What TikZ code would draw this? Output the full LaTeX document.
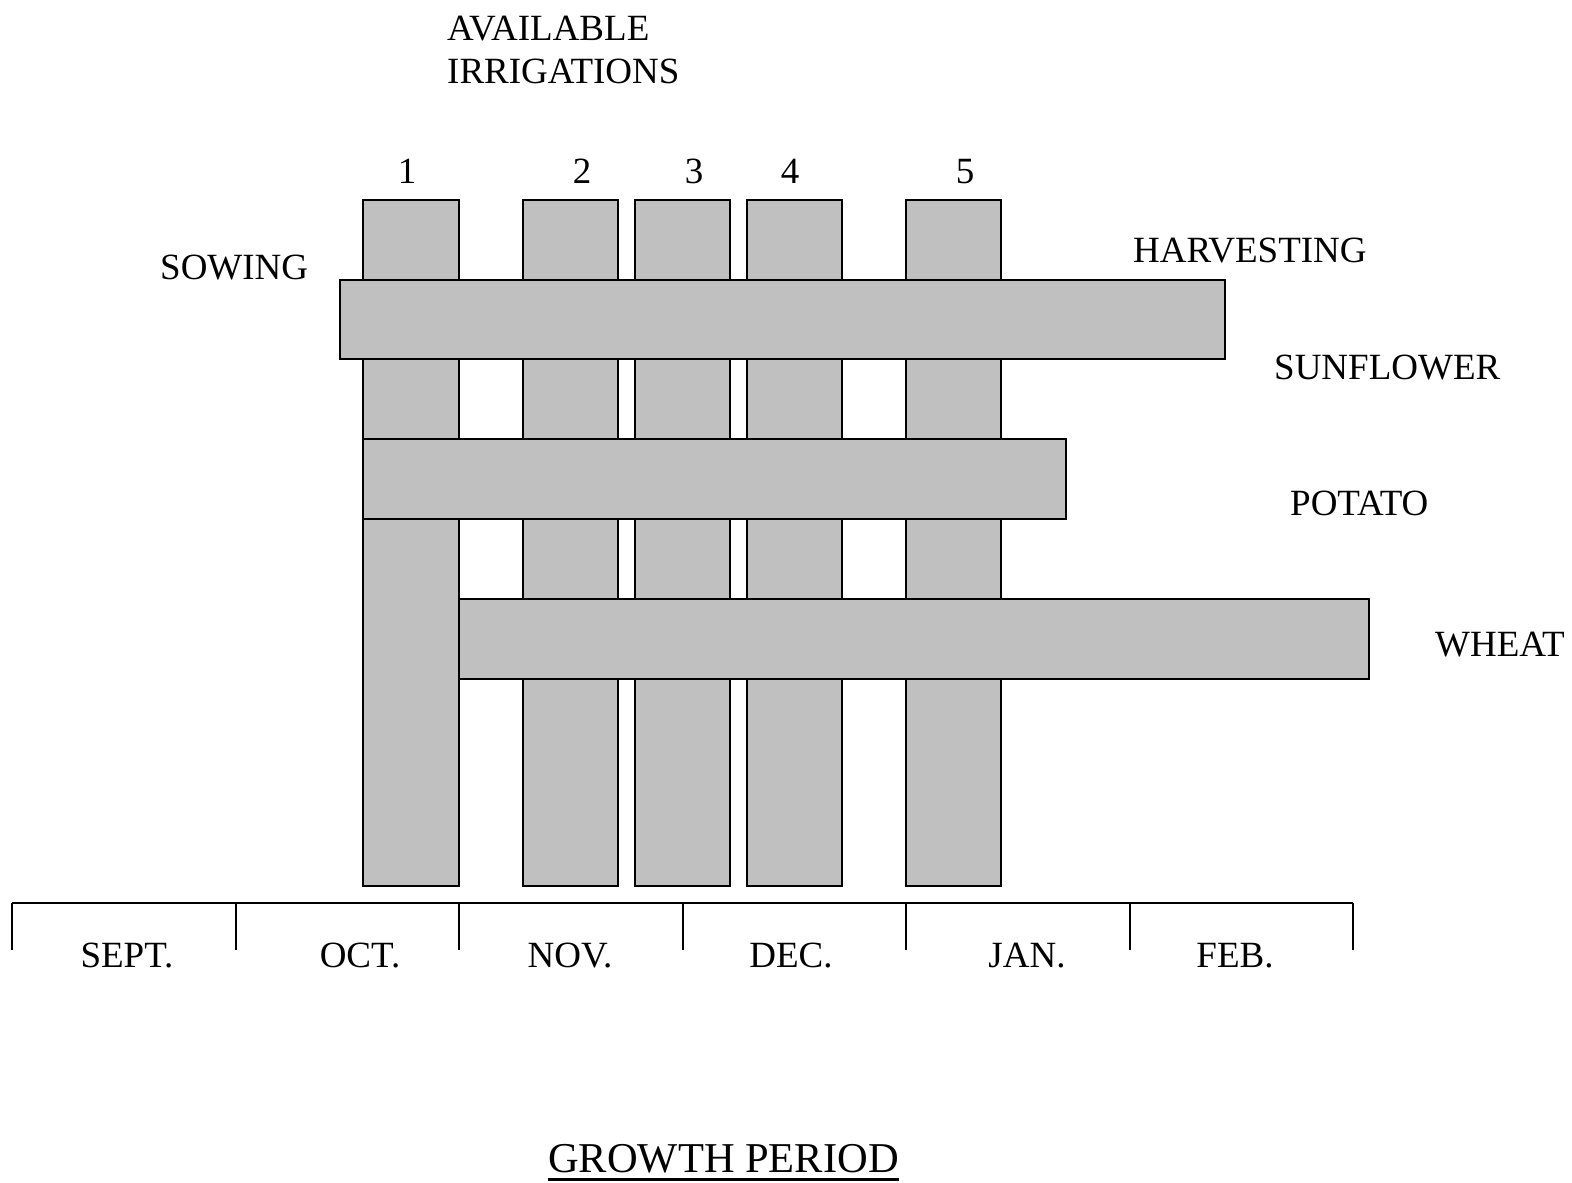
\documentclass[tikz,border=0pt]{standalone}
\usepackage{fontspec}
\setmainfont{Liberation Serif}
\usetikzlibrary{calc}
\begin{document}
\begin{tikzpicture}[x=1pt,y=-1pt,
  bar/.style={draw=black,fill={rgb,255:red,192;green,192;blue,192},line width=2pt},
  axis/.style={draw=black,line width=2pt},
  tick/.style={draw=black,line width=1.5pt},
  lbl/.style={anchor=base west,inner sep=0pt,font=\fontsize{37}{44}\selectfont},
  clbl/.style={anchor=base,inner sep=0pt,font=\fontsize{37}{44}\selectfont}]
\useasboundingbox (0,0) rectangle (1572,1183);
% irrigation bars
\path[bar] (363,200) rectangle (459,886);
\path[bar] (523,200) rectangle (618,886);
\path[bar] (635,200) rectangle (730,886);
\path[bar] (747,200) rectangle (842,886);
\path[bar] (906,200) rectangle (1001,886);
% crop bars
\path[bar] (340,280) rectangle (1225,359);
\path[bar] (363,439) rectangle (1066,519);
\path[bar] (459,599) rectangle (1369,679);
% timeline
\path[axis] (12,903) -- (1353,903);
\foreach \x in {12,236,459,683,906,1130,1353}
  \path[tick] (\x,903) -- (\x,950);
% labels
\node[lbl] (avail) at (447,40) {AVAILABLE};
\node[lbl] (irrig) at (447,83) {IRRIGATIONS};
\node[clbl] (n1) at (407,183) {1};
\node[clbl] (n2) at (582,183) {2};
\node[clbl] (n3) at (694,183) {3};
\node[clbl] (n4) at (790,183) {4};
\node[clbl] (n5) at (965,183) {5};
\node[lbl] (sow) at (160,279) {SOWING};
\node[lbl] (harv) at (1133,262) {HARVESTING};
\node[lbl] (sun) at (1274,379) {SUNFLOWER};
\node[lbl] (pot) at (1290,515) {POTATO};
\node[lbl] (wh) at (1435,656) {WHEAT};
\node[clbl] (m1) at (127,967) {SEPT.};
\node[clbl] (m2) at (360,967) {OCT.};
\node[clbl] (m3) at (570,967) {NOV.};
\node[clbl] (m4) at (791,967) {DEC.};
\node[clbl] (m5) at (1027,967) {JAN.};
\node[clbl] (m6) at (1235,967) {FEB.};
\node[lbl,font=\fontsize{42.5}{50}\selectfont] (gp) at (548,1172) {GROWTH PERIOD};
\path[draw=black,line width=3pt] ($(gp.base west)+(0,7)$) -- ($(gp.base east)+(0,7)$);
\end{tikzpicture}
\end{document}
